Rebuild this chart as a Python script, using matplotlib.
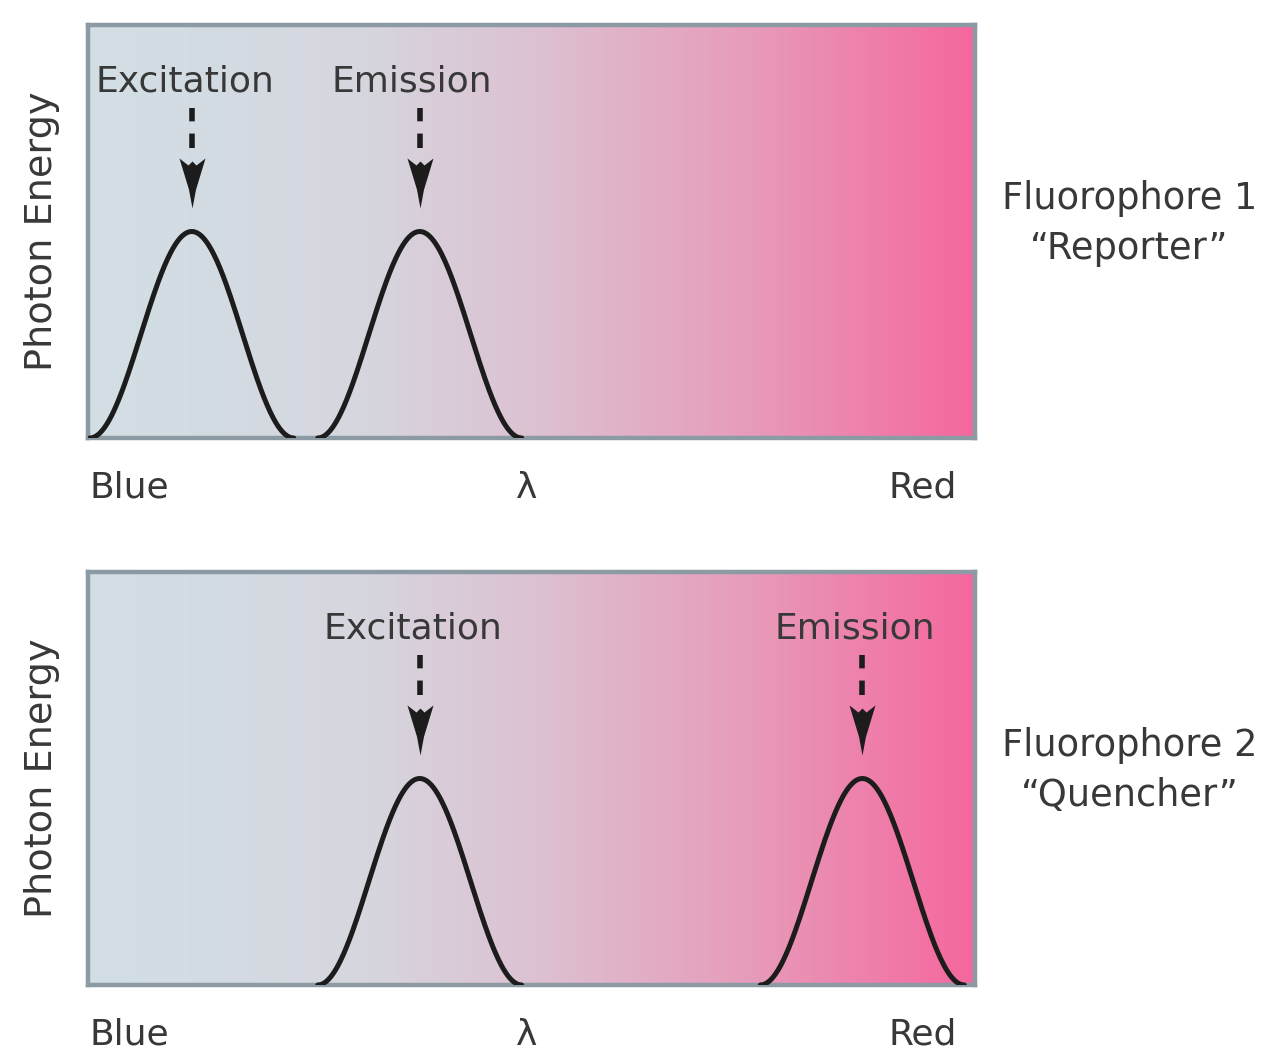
import numpy as np
import matplotlib.pyplot as plt
from matplotlib.colors import LinearSegmentedColormap
from matplotlib.path import Path

# Wavelength axis runs 0 (blue) to 100 (red); peak height in axes units
panel_names = ['Fluorophore 1\n\u201cReporter\u201d', 'Fluorophore 2\n\u201cQuencher\u201d']
peak_labels = ['Excitation', 'Emission']
peak_centers = [[11.7, 37.4], [37.4, 87.3]]
peak_halfwidth = 11.5
peak_height = 0.5
axis_words = ['Blue', '\u03bb', 'Red']

text_color = '#383838'
line_color = '#1c1c1c'
edge_color = '#8c9aa4'

# background colour ramp from pale blue-grey to pink
bg_cmap = LinearSegmentedColormap.from_list('bg', [
    (0.0, '#d2dfe5'), (0.3, '#d6d7df'), (0.5, '#dcc2d2'),
    (0.75, '#e79bba'), (1.0, '#f5679d')])

# swept arrowhead, tip pointing down
head = Path([(0, -1), (-0.14, -0.25), (-0.52, 1.0), (-0.16, 0.72), (0, 0.88),
             (0.16, 0.72), (0.52, 1.0), (0.14, -0.25), (0, -1)])

fig = plt.figure(figsize=(12.7, 10.53), dpi=100)
plt.rcParams['font.family'] = 'DejaVu Sans'

bottoms = [1 - 438 / 1053, 1 - 985 / 1053]
for i, name in enumerate(panel_names):
    ax = fig.add_axes([88 / 1270, bottoms[i], 887 / 1270, 413 / 1053])
    ax.set_xlim(0, 100)
    ax.set_ylim(0, 1)
    grad = np.linspace(0, 1, 256).reshape(1, -1)
    ax.imshow(grad, cmap=bg_cmap, aspect='auto', extent=[0, 100, 0, 1], zorder=0)

    for j, c in enumerate(peak_centers[i]):
        x = np.linspace(c - peak_halfwidth, c + peak_halfwidth, 200)
        y = peak_height * 0.5 * (1 + np.cos(np.pi * (x - c) / peak_halfwidth))
        ax.plot(x, y, color=line_color, lw=3.6, solid_capstyle='round', zorder=3)

        # dashed arrow shaft and head
        ax.plot([c, c], [0.702, 0.80], color=line_color, lw=4,
                dashes=(2.6, 2.2), dash_capstyle='butt', zorder=3)
        ax.plot([c], [0.617], marker=head, markersize=36, color=line_color,
                markeredgewidth=0, zorder=3)
        lx = c - 0.8 if j == 0 else c - 0.9
        ax.text(lx, 0.862, peak_labels[j], ha='center', va='center',
                fontsize=26, color=text_color, zorder=4)

    for s in ax.spines.values():
        s.set_color(edge_color)
        s.set_linewidth(3.2)
    ax.set_xticks([])
    ax.set_yticks([])

    ax.text(-0.052, 0.5, 'Photon Energy', transform=ax.transAxes, rotation=90,
            ha='center', va='center', fontsize=27.5, color=text_color)
    ax.text(0.002, -0.12, axis_words[0], transform=ax.transAxes, ha='left',
            va='center', fontsize=26, color=text_color)
    ax.text(0.495, -0.12, axis_words[1], transform=ax.transAxes, ha='center',
            va='center', fontsize=26, color=text_color)
    ax.text(0.98, -0.12, axis_words[2], transform=ax.transAxes, ha='right',
            va='center', fontsize=26, color=text_color)

    ax.text(1.174, 0.52, name, transform=ax.transAxes, ha='center',
            va='center', fontsize=26.5, color=text_color, linespacing=1.45)

fig.savefig('out.png', dpi=100)
